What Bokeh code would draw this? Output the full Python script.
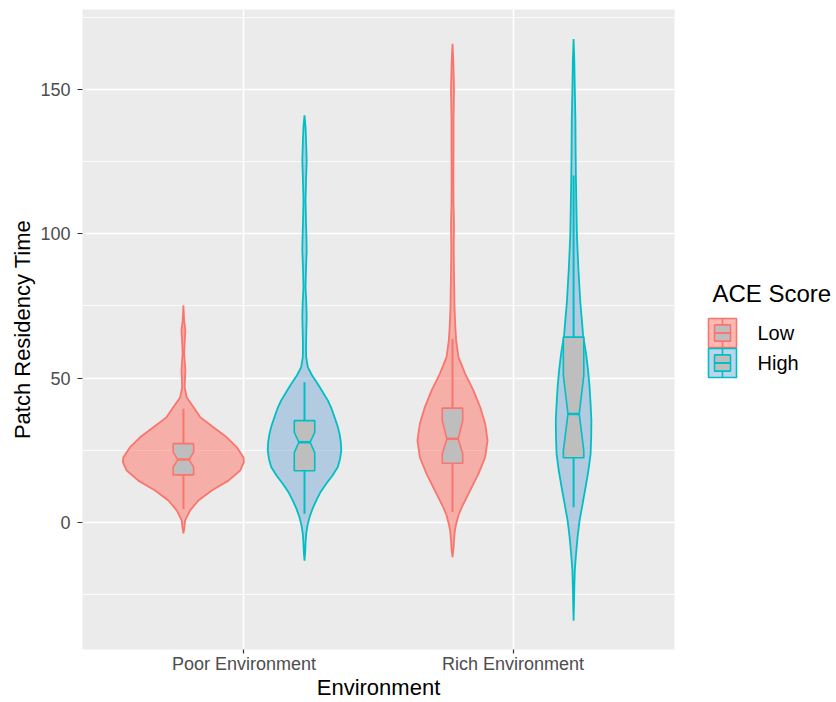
from bokeh.plotting import figure
from bokeh.models import Range1d, FixedTicker, ColumnDataSource
from bokeh.layouts import row
from bokeh.core.properties import value
from bokeh.embed import file_html
from bokeh.resources import INLINE

# ---------------- data ----------------
categories = ["Poor Environment", "Rich Environment"]
groups = ["Low", "High"]
legend_title = "ACE Score"
x_title = "Environment"
y_title = "Patch Residency Time"
y_ticks = [0, 50, 100, 150]
y_minor_ticks = [-25, 25, 75, 125, 175]

line_colors = {"Low": "#F8766D", "High": "#00BFC4"}
fill_colors = {"Low": "#FF7165", "High": "#7BABD5"}
box_fill = "#BEBEBE"

# violin outlines: value and width relative to the widest violin
poor_low_y = [75.2, 70, 66.5, 62, 58.5, 55, 52.6, 49.5, 46.8, 43.3, 40, 36.5, 33, 29.5,
              26.1, 22.6, 20.9, 18, 14.5, 11.1, 7.6, 4.2, 0.7, -1.5, -3.8]
poor_low_w = [0, 0.012, 0.033, 0.020, 0.013, 0.025, 0.033, 0.025, 0.021, 0.055, 0.165,
              0.276, 0.496, 0.716, 0.881, 0.992, 1.0, 0.937, 0.744, 0.468, 0.248, 0.111,
              0.028, 0.017, 0]

poor_high_y = [141, 137, 133, 125.4, 118, 111.5, 104, 98, 94.2, 88, 81.5, 76, 71.1, 66, 61,
               57.3, 53.8, 51, 48, 45, 42.3, 39.5, 36.5, 33.5, 30.7, 27.8, 24.9, 22, 19.2,
               16.3, 13.4, 10.5, 7.6, 4.7, 1.8, -1, -3.9, -7.3, -10, -13.2]
poor_high_w = [0, 0.017, 0.025, 0.036, 0.025, 0.017, 0.025, 0.033, 0.036, 0.025, 0.017,
               0.030, 0.036, 0.030, 0.025, 0.028, 0.055, 0.124, 0.220, 0.306, 0.385, 0.446,
               0.496, 0.545, 0.579, 0.600, 0.607, 0.587, 0.550, 0.463, 0.359, 0.264, 0.193,
               0.132, 0.083, 0.050, 0.028, 0.017, 0.012, 0]

rich_low_y = [165.8, 160, 150, 140, 130, 120, 110, 103.6, 95, 86, 80, 74.6, 68, 63, 57.3,
              51.5, 45.7, 39.9, 34.2, 28.4, 22.6, 16.9, 11.1, 5.3, 2.5, -0.5, -3, -6.2, -9, -12]
rich_low_w = [0, 0.013, 0.025, 0.017, 0.017, 0.015, 0.017, 0.025, 0.020, 0.025, 0.030,
              0.033, 0.046, 0.061, 0.099, 0.210, 0.347, 0.458, 0.540, 0.579, 0.540, 0.430,
              0.293, 0.154, 0.099, 0.061, 0.038, 0.025, 0.017, 0]

rich_high_y = [167.5, 160, 150, 139.8, 130, 120, 110, 99.4, 88, 76.3, 70, 64.8, 58.4, 52.5,
               46.9, 41, 35.3, 29.5, 23.8, 18, 12.2, 6.5, 0.7, -5, -10.8, -16.6, -22.4, -28, -34]
rich_high_w = [0, 0.012, 0.020, 0.030, 0.033, 0.038, 0.046, 0.055, 0.079, 0.111, 0.137,
               0.157, 0.207, 0.240, 0.264, 0.281, 0.294, 0.291, 0.281, 0.245, 0.198, 0.149,
               0.099, 0.066, 0.041, 0.020, 0.012, 0.007, 0]

# notched box statistics, order: Poor-Low, Poor-High, Rich-Low, Rich-High
box_cat = ["Poor Environment", "Poor Environment", "Rich Environment", "Rich Environment"]
box_grp = ["Low", "High", "Low", "High"]
whisker_low = [4.7, 3.0, 3.6, 5.3]
hinge_low = [16.5, 17.9, 20.5, 22.4]
notch_low = [19.2, 24.2, 23.8, 24.9]
median = [21.8, 27.8, 29.0, 37.6]
notch_high = [24.4, 31.2, 35.3, 50.9]
hinge_high = [27.3, 35.3, 39.6, 64.2]
whisker_high = [39.4, 48.6, 63.6, 120.2]

violins = [
    ("Poor Environment", "Low", poor_low_y, poor_low_w),
    ("Poor Environment", "High", poor_high_y, poor_high_w),
    ("Rich Environment", "Low", rich_low_y, rich_low_w),
    ("Rich Environment", "High", rich_high_y, rich_high_w),
]

# ---------------- layout constants ----------------
DODGE = 0.45          # dodge width per group
VMAX = DODGE / 2      # half width of widest violin
BOX_HW = 0.038        # half width of boxes
NOTCH = 0.55          # notch pinch fraction
FONT = "Liberation Sans"
FRAME_TOP, FRAME_BOTTOM = 9, 649


def xpos(cat, grp):
    return categories.index(cat) + 1 + (groups.index(grp) - 0.5) * DODGE


# ---------------- main plot ----------------
p = figure(width=690, height=702, output_backend="svg", toolbar_location=None,
           x_range=Range1d(0.4, 2.6), y_range=Range1d(-44.0, 177.7),
           min_border_left=82, min_border_right=16, min_border_top=FRAME_TOP,
           min_border_bottom=702 - FRAME_BOTTOM)
p.background_fill_color = "#EBEBEB"
p.border_fill_color = "white"
p.outline_line_color = None

# violins
vx, vy, vl, vf = [], [], [], []
for cat, grp, ys, ws in violins:
    c = xpos(cat, grp)
    left = [c - w * VMAX for w in ws]
    right = [c + w * VMAX for w in ws]
    vx.append(left + right[::-1])
    vy.append(list(ys) + list(ys)[::-1])
    vl.append(line_colors[grp])
    vf.append(fill_colors[grp])
p.patches(xs="xs", ys="ys", source=ColumnDataSource(dict(xs=vx, ys=vy, lc=vl, fc=vf)),
          fill_color="fc", fill_alpha=0.5, line_color="lc", line_width=1.8)

# whiskers
cx = [xpos(c, g) for c, g in zip(box_cat, box_grp)]
bl = [line_colors[g] for g in box_grp]
p.segment(x0="x", y0="y0", x1="x", y1="y1",
          source=ColumnDataSource(dict(x=cx, y0=whisker_low, y1=whisker_high, lc=bl)),
          line_color="lc", line_width=2)

# notched boxes
bx, by = [], []
for i, c in enumerate(cx):
    bx.append([c - BOX_HW, c - BOX_HW, c - BOX_HW * NOTCH, c - BOX_HW, c - BOX_HW,
               c + BOX_HW, c + BOX_HW, c + BOX_HW * NOTCH, c + BOX_HW, c + BOX_HW])
    by.append([hinge_low[i], notch_low[i], median[i], notch_high[i], hinge_high[i],
               hinge_high[i], notch_high[i], median[i], notch_low[i], hinge_low[i]])
p.patches(xs="xs", ys="ys", source=ColumnDataSource(dict(xs=bx, ys=by, lc=bl)),
          fill_color=box_fill, line_color="lc", line_width=1.6)
p.segment(x0="x0", y0="y", x1="x1", y1="y",
          source=ColumnDataSource(dict(x0=[c - BOX_HW * NOTCH for c in cx],
                                       x1=[c + BOX_HW * NOTCH for c in cx],
                                       y=median, lc=bl)),
          line_color="lc", line_width=2.6)

# axes & grid
p.xaxis.ticker = FixedTicker(ticks=[1, 2])
p.xaxis.major_label_overrides = {i + 1: c for i, c in enumerate(categories)}
p.yaxis.ticker = FixedTicker(ticks=y_ticks, minor_ticks=y_minor_ticks)
for ax in (p.xaxis, p.yaxis):
    ax.axis_line_color = None
    ax.major_tick_line_color = "#333333"
    ax.major_tick_line_width = 1.2
    ax.major_tick_in = 0
    ax.minor_tick_line_color = None
    ax.major_label_text_font = FONT
    ax.major_label_text_font_size = "18px"
    ax.major_label_text_color = "#4D4D4D"
    ax.axis_label_text_font = FONT
    ax.axis_label_text_font_size = "22px"
    ax.axis_label_text_font_style = "normal"
    ax.axis_label_text_color = "black"
p.xaxis.axis_label = x_title
p.yaxis.axis_label = y_title
p.xaxis.major_tick_out = 4
p.yaxis.major_tick_out = 5
p.xaxis.major_label_standoff = 0
p.xaxis.axis_label_standoff = -2
p.yaxis.major_label_standoff = 7
p.yaxis.axis_label_standoff = 2

p.xgrid.grid_line_color = "white"
p.xgrid.grid_line_width = 1.6
p.ygrid.grid_line_color = "white"
p.ygrid.grid_line_width = 1.6
p.ygrid.minor_grid_line_color = "white"
p.ygrid.minor_grid_line_width = 0.8

# ---------------- legend panel (pixel coordinates, aligned with main frame) ----------------
leg = figure(width=146, height=702, output_backend="svg", toolbar_location=None,
             x_range=Range1d(0, 146), y_range=Range1d(FRAME_BOTTOM, FRAME_TOP),
             min_border=0, min_border_top=FRAME_TOP, min_border_bottom=702 - FRAME_BOTTOM,
             outline_line_color=None)
leg.axis.visible = False
leg.grid.visible = False
leg.background_fill_color = "white"
leg.border_fill_color = "white"

KEY_L, KEY_R, KEY_T, KEY_H = 18, 46, 318, 29
for i, g in enumerate(groups):
    t = KEY_T + i * (KEY_H + 1)
    b = t + KEY_H
    mid = (KEY_L + KEY_R) / 2
    leg.quad(left=[KEY_L], right=[KEY_R], top=[t], bottom=[b], fill_color=fill_colors[g],
             fill_alpha=0.5, line_color=line_colors[g], line_width=1.6)
    leg.segment(x0=[mid, mid], y0=[t, b], x1=[mid, mid],
                y1=[t + KEY_H * 0.22, b - KEY_H * 0.22], line_color=line_colors[g], line_width=1.6)
    leg.quad(left=[KEY_L + 6], right=[KEY_R - 6], top=[t + KEY_H * 0.22],
             bottom=[b - KEY_H * 0.22], fill_color=box_fill, line_color=line_colors[g],
             line_width=1.6)
    leg.segment(x0=[KEY_L + 6], x1=[KEY_R - 6], y0=[(t + b) / 2], y1=[(t + b) / 2],
                line_color=line_colors[g], line_width=2)
    leg.text(x=[67], y=[(t + b) / 2], text=[g], text_font=value(FONT),
             text_font_size="20px", text_baseline="middle", text_align="left",
             text_color="black")
leg.text(x=[22], y=[293], text=[legend_title], text_font=value(FONT),
         text_font_size="24px", text_baseline="middle", text_align="left",
         text_color="black")

layout = row(p, leg)
open("out.html", "w").write(file_html(layout, INLINE))
